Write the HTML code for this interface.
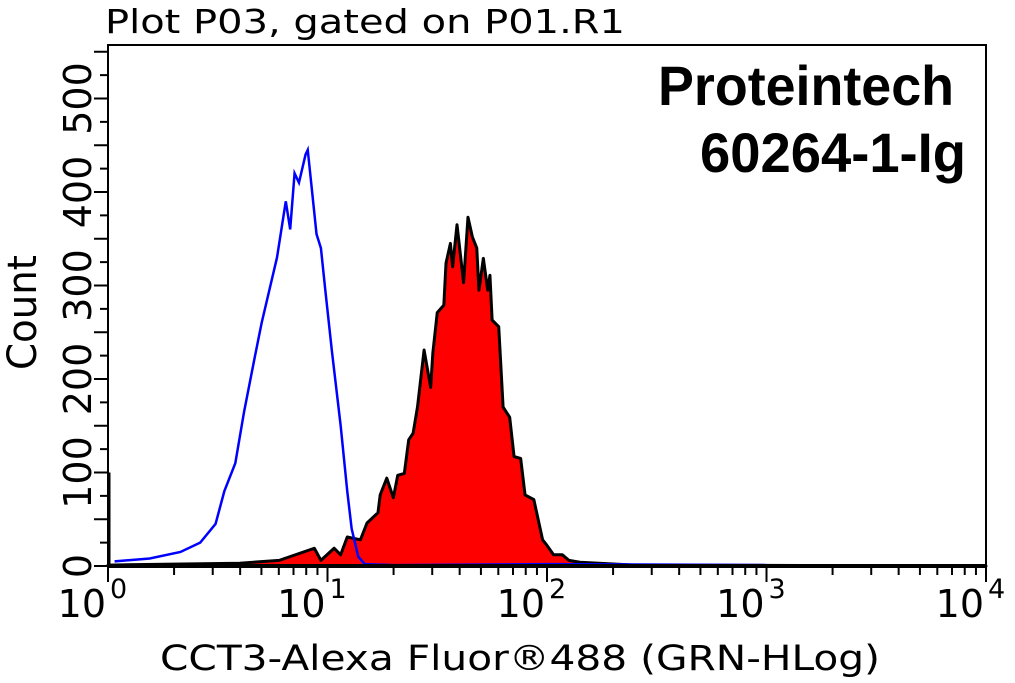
<!DOCTYPE html>
<html><head><meta charset="utf-8"><style>
body{margin:0;background:#fff;}
svg{display:block;font-family:"Liberation Sans",sans-serif;}
</style></head><body>
<svg id="chart" width="1015" height="683" viewBox="0 0 1015 683">
<text x="105" y="33" font-size="33" font-family="DejaVu Sans, sans-serif" textLength="520" lengthAdjust="spacingAndGlyphs">Plot P03, gated on P01.R1</text>
<text x="658" y="105" font-size="56" font-weight="bold" textLength="296" lengthAdjust="spacingAndGlyphs">Proteintech</text>
<text x="700" y="172" font-size="56" font-weight="bold" textLength="266" lengthAdjust="spacingAndGlyphs">60264-1-Ig</text>
<text transform="translate(36,370) rotate(-90)" font-size="40" font-family="DejaVu Sans, sans-serif" textLength="115" lengthAdjust="spacingAndGlyphs">Count</text>
<text x="160" y="670" font-size="35" font-family="DejaVu Sans, sans-serif" textLength="720" lengthAdjust="spacingAndGlyphs">CCT3-Alexa Fluor®488 (GRN-HLog)</text>
<g id="marks"></g>
<g id="axes"></g>
</svg>
<script>
const blueLog = [0.03,0.19,0.33,0.42,0.49,0.53,0.58,0.62,0.67,0.70,0.74,0.77,0.81,0.83,0.85,0.87,0.90,0.91,0.93,0.95,0.97,0.99,1.02,1.06,1.09,1.11,1.14,1.17,1.30,2.0,3.0];
const blueCount = [5,8,15,25,45,80,110,165,225,260,300,330,390,360,420,410,440,445,400,355,340,295,230,150,80,40,10,2,1,2,1];
const redLog = [0.0,0.3,0.6,0.78,0.94,0.97,1.03,1.06,1.09,1.15,1.18,1.23,1.24,1.27,1.30,1.32,1.35,1.37,1.39,1.41,1.44,1.47,1.48,1.50,1.53,1.54,1.56,1.57,1.59,1.62,1.64,1.66,1.68,1.69,1.71,1.73,1.74,1.75,1.78,1.80,1.83,1.85,1.88,1.90,1.94,1.98,2.00,2.03,2.07,2.10,2.15,2.4,4.0];
const redCount = [1,2,3,6,19,6,19,12,31,28,46,57,76,94,73,97,99,135,142,170,231,191,228,271,279,324,345,320,365,303,373,352,340,295,329,295,311,263,256,170,159,117,115,76,71,28,22,12,12,6,4,1,0];
const yTicks = [0,100,200,300,400,500];
const xDecades = [0,1,2,3,4];
const x0=108,x1=986,yb=566,yt=45;
const xs=l=>x0+(x1-x0)*l/4;
const ys=c=>yb-c*0.935;
const ns='http://www.w3.org/2000/svg';
const marks=document.getElementById('marks'),axes=document.getElementById('axes');
function mk(tag,attrs,parent){const e=document.createElementNS(ns,tag);for(const k in attrs)e.setAttribute(k,attrs[k]);parent.appendChild(e);return e;}
let d='M'+xs(redLog[0])+','+yb;
redLog.forEach((l,i)=>d+=' L'+xs(l)+','+ys(redCount[i]));
d+=' L'+xs(redLog[redLog.length-1])+','+yb+' Z';
const rf=mk('path',{d:d,fill:'#ff0000',stroke:'#000','stroke-width':3,'stroke-linejoin':'round'},marks);


let bd='';
blueLog.forEach((l,i)=>bd+=(i?' L':'M')+xs(l)+','+ys(blueCount[i]));
const bl=mk('path',{d:bd,fill:'none',stroke:'#0000ff','stroke-width':2.5},marks);


const sp=mk('line',{x1:x0+1,y1:yb,x2:x0+1,y2:ys(100),stroke:'#000','stroke-width':3},marks);


const fr=mk('path',{d:`M${x0},${yb} L${x0},${yt} L${x1},${yt} L${x1},${yb} Z`,fill:'none',stroke:'#000','stroke-width':2},axes);


mk('line',{x1:x0,y1:yb,x2:x1,y2:yb,stroke:'#000','stroke-width':4},axes);
for(let c=0;c<=550;c+=25){const big=c%50===0;const t=mk('line',{x1:x0-(big?14:8),y1:ys(c),x2:x0,y2:ys(c),stroke:'#000','stroke-width':2},axes);}
yTicks.forEach(v=>{const t=mk('text',{transform:`translate(91,${ys(v)}) rotate(-90)`,'text-anchor':'middle','font-size':38,'font-family':'DejaVu Sans, sans-serif'},axes);t.textContent=v;});
xDecades.forEach(dc=>{
 const t=mk('line',{x1:xs(dc),y1:yb,x2:xs(dc),y2:yb+16,stroke:'#000','stroke-width':2},axes);
 
 if(dc<4)for(let m=2;m<10;m++){const mt=mk('line',{x1:xs(dc+Math.log10(m)),y1:yb,x2:xs(dc+Math.log10(m)),y2:yb+9,stroke:'#000','stroke-width':2},axes);}
 const g=mk('text',{x:xs(dc)-2,y:617,'text-anchor':'end','font-size':38,'font-family':'DejaVu Sans, sans-serif'},axes);
 
 g.textContent='10';
 const g2=mk('text',{x:xs(dc)+2,y:598,'font-size':27,'font-family':'DejaVu Sans, sans-serif'},axes);
 
 g2.textContent=dc;
});
</script>
</body></html>
